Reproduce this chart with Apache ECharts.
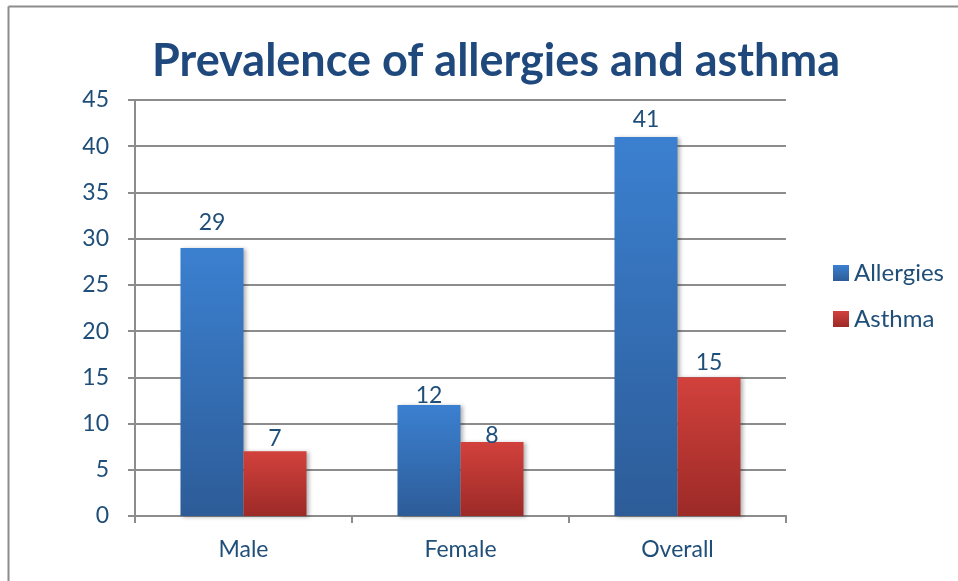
<!DOCTYPE html>
<html>
<head>
<meta charset="utf-8">
<script src="https://cdn.jsdelivr.net/npm/echarts@6/dist/echarts.min.js"></script>
<style>html,body{margin:0;padding:0;background:#fff}#c{width:958px;height:581px}</style>
</head>
<body>
<div id="c"></div>
<script>
const categories = ['Male', 'Female', 'Overall'];
const allergies = [29, 12, 41];
const asthma = [7, 8, 15];
const yTicks = [0, 5, 10, 15, 20, 25, 30, 35, 40, 45];

// label placement offsets (style only)
const allergiesLabelGap = [14, -2, 6];
const asthmaLabelGap = [1, -5, 3];

const txt = '#1F4E79';
const font = 'Lato';
const chart = echarts.init(document.getElementById('c'));
function grad(top, bottom) {
  return new echarts.graphic.LinearGradient(0, 0, 0, 1, [{offset: 0, color: top}, {offset: 1, color: bottom}]);
}
function withGaps(values, gaps) {
  return values.map((v, i) => ({value: v, label: {distance: gaps[i]}}));
}
chart.setOption({
  backgroundColor: '#fff',
  animation: false,
  title: {
    text: 'Prevalence of allergies and asthma',
    left: 491, textAlign: 'center', top: 34,
    textStyle: {fontFamily: font, fontWeight: 'bold', fontSize: 45, color: '#1F497D'}
  },
  graphic: [
    {type: 'line', shape: {x1: 8.5, y1: 6.5, x2: 958, y2: 6.5}, style: {stroke: '#8c8c8c', lineWidth: 2}},
    {type: 'line', shape: {x1: 8.5, y1: 6.5, x2: 8.5, y2: 581}, style: {stroke: '#8c8c8c', lineWidth: 2}}
  ],
  legend: {
    orient: 'vertical', left: 828, top: 256, itemGap: 22,
    itemWidth: 16, itemHeight: 16, icon: 'rect',
    textStyle: {fontFamily: font, fontSize: 24, color: txt},
    data: ['Allergies', 'Asthma']
  },
  grid: {left: 135, right: 172, top: 100, bottom: 65, containLabel: false},
  xAxis: {
    type: 'category', data: categories,
    axisLine: {lineStyle: {color: '#8c8c8c', width: 2}},
    axisTick: {show: true, length: 7, lineStyle: {color: '#8c8c8c', width: 2}},
    axisLabel: {fontFamily: font, fontSize: 23, color: txt, margin: 22}
  },
  yAxis: {
    type: 'value', min: 0, max: 45, interval: 5,
    axisLine: {show: true, lineStyle: {color: '#8c8c8c', width: 2}},
    axisTick: {show: true, length: 7, lineStyle: {color: '#8c8c8c', width: 2}},
    splitLine: {lineStyle: {color: '#8c8c8c', width: 2}},
    axisLabel: {fontFamily: font, fontSize: 23, color: txt, margin: 26,
      formatter: v => yTicks.includes(v) ? String(v) : ''}
  },
  series: [
    {
      name: 'Allergies', type: 'bar', data: withGaps(allergies, allergiesLabelGap), barWidth: 63, barGap: '0%',
      itemStyle: {color: grad('#3B80D0', '#2D5C98'), shadowBlur: 4, shadowColor: 'rgba(0,0,0,0.3)', shadowOffsetX: 2, shadowOffsetY: 1},
      label: {show: true, position: 'top', distance: 14, fontFamily: font, fontSize: 23, color: txt}
    },
    {
      name: 'Asthma', type: 'bar', data: withGaps(asthma, asthmaLabelGap), barWidth: 63,
      itemStyle: {color: grad('#D2413C', '#9C2A27'), shadowBlur: 4, shadowColor: 'rgba(0,0,0,0.3)', shadowOffsetX: 2, shadowOffsetY: 1},
      label: {show: true, position: 'top', distance: 14, fontFamily: font, fontSize: 23, color: txt}
    }
  ]
});
</script>
</body>
</html>
